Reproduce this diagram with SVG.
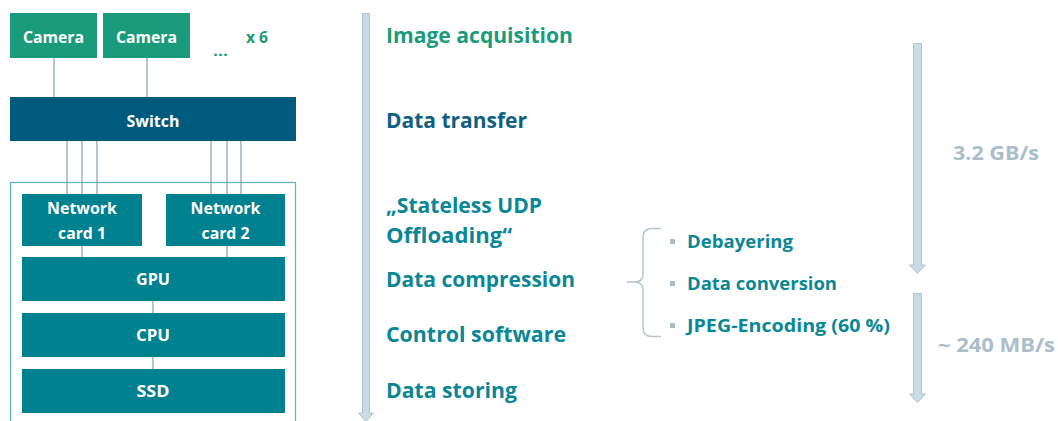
<svg xmlns="http://www.w3.org/2000/svg" width="1058" height="421" viewBox="0 0 1058 421">
<style>
text{font-family:"Open Sans","Liberation Sans",sans-serif;font-weight:700}
.box{fill:#00818f}
.wt{fill:#ffffff;font-size:16px;text-anchor:middle;font-weight:700}
.ln{stroke:#b3c7d1;stroke-width:2;fill:none}
.h{font-size:20.5px;font-weight:700}
.teal{fill:#0a8796}
.sub{font-size:17.5px;font-weight:700;fill:#0a8796}
.gray{fill:#aabdca;font-size:20px;font-weight:700}
.arr{fill:#c9dbe4;stroke:#afc4cf;stroke-width:1}
.bul{fill:#a9bcc8}
</style>
<rect width="1058" height="421" fill="#ffffff"/>
<g id="connectors">
<line class="ln" x1="54" y1="58" x2="54" y2="97"/>
<line class="ln" x1="147" y1="58" x2="147" y2="97"/>
<line class="ln" x1="67" y1="141" x2="67" y2="194"/>
<line class="ln" x1="82" y1="141" x2="82" y2="194"/>
<line class="ln" x1="97" y1="141" x2="97" y2="194"/>
<line class="ln" x1="211" y1="141" x2="211" y2="194"/>
<line class="ln" x1="227" y1="141" x2="227" y2="194"/>
<line class="ln" x1="241" y1="141" x2="241" y2="194"/>
<line class="ln" x1="82" y1="246" x2="82" y2="257"/>
<line class="ln" x1="227" y1="246" x2="227" y2="257"/>
<line class="ln" x1="153" y1="301" x2="153" y2="313"/>
<line class="ln" x1="153" y1="357" x2="153" y2="369"/>
</g>
<g id="container"><rect x="10.5" y="182.5" width="285" height="250" fill="none" stroke="#5db4bf" stroke-width="1.2"/></g>
<g id="camera1"><rect x="10" y="13" width="87" height="45" fill="#1a9b7b"/><text class="wt" x="53.5" y="43" textLength="61" lengthAdjust="spacingAndGlyphs">Camera</text></g>
<g id="camera2"><rect x="103" y="13" width="87" height="45" fill="#1a9b7b"/><text class="wt" x="146.5" y="43" textLength="61" lengthAdjust="spacingAndGlyphs">Camera</text></g>
<g id="more"><text x="257" y="43" font-size="16" fill="#1a9b7b" text-anchor="middle" textLength="22" lengthAdjust="spacingAndGlyphs">x 6</text><text x="220.5" y="56" font-size="15" fill="#1a9b7b" text-anchor="middle" textLength="15" lengthAdjust="spacingAndGlyphs">...</text></g>
<g id="switch"><rect x="10" y="97" width="286" height="44" fill="#005a7d"/><text class="wt" x="153" y="127" textLength="53" lengthAdjust="spacingAndGlyphs">Switch</text></g>
<g id="nc1"><rect class="box" x="22" y="194" width="120" height="52"/><text class="wt" x="82" y="214" textLength="70" lengthAdjust="spacingAndGlyphs">Network</text><text class="wt" x="82" y="239" textLength="48" lengthAdjust="spacingAndGlyphs">card 1</text></g>
<g id="nc2"><rect class="box" x="166" y="194" width="119" height="52"/><text class="wt" x="225.5" y="214" textLength="70" lengthAdjust="spacingAndGlyphs">Network</text><text class="wt" x="225.5" y="239" textLength="48" lengthAdjust="spacingAndGlyphs">card 2</text></g>
<g id="gpu"><rect class="box" x="22" y="257" width="263" height="44"/><text class="wt" x="153" y="285" textLength="34" lengthAdjust="spacingAndGlyphs">GPU</text></g>
<g id="cpu"><rect class="box" x="22" y="313" width="263" height="44"/><text class="wt" x="153" y="341" textLength="34" lengthAdjust="spacingAndGlyphs">CPU</text></g>
<g id="ssd"><rect class="box" x="22" y="369" width="263" height="44"/><text class="wt" x="153" y="397" textLength="33" lengthAdjust="spacingAndGlyphs">SSD</text></g>
<g id="timeline"><path class="arr" d="M362.5,13.5 H369.5 V413 H373.5 L366,421.5 L358.5,413 H362.5 Z"/></g>
<g id="steps">
<text class="h" x="386" y="43" fill="#1a9b7b" textLength="187" lengthAdjust="spacingAndGlyphs">Image acquisition</text>
<text class="h" x="386" y="128" fill="#0f5f82" textLength="141" lengthAdjust="spacingAndGlyphs">Data transfer</text>
<text class="h teal" x="386" y="213" textLength="156" lengthAdjust="spacingAndGlyphs">„Stateless UDP</text>
<text class="h teal" x="386" y="243" textLength="126" lengthAdjust="spacingAndGlyphs">Offloading“</text>
<text class="h teal" x="386" y="287" textLength="189" lengthAdjust="spacingAndGlyphs">Data compression</text>
<text class="h teal" x="386" y="342" textLength="180" lengthAdjust="spacingAndGlyphs">Control software</text>
<text class="h teal" x="386" y="398" textLength="131" lengthAdjust="spacingAndGlyphs">Data storing</text>
</g>
<g id="brace"><path d="M661,228.5 H652 Q643,228.5 643,237 V274 Q643,282 635,282 H627 M635,282 Q643,282 643,290 V328 Q643,336.5 652,336.5 H661" fill="none" stroke="#b3c5cf" stroke-width="1.5"/></g>
<g id="compression-steps">
<rect class="bul" x="670" y="239" width="5" height="5"/>
<rect class="bul" x="670" y="281" width="5" height="5"/>
<rect class="bul" x="670" y="323" width="5" height="5"/>
<text class="sub" x="687" y="248" textLength="106" lengthAdjust="spacingAndGlyphs">Debayering</text>
<text class="sub" x="687" y="290" textLength="150" lengthAdjust="spacingAndGlyphs">Data conversion</text>
<text class="sub" x="687" y="332" textLength="203" lengthAdjust="spacingAndGlyphs">JPEG-Encoding (60 %)</text>
</g>
<g id="rates">
<path class="arr" d="M913.5,43.5 H921.5 V265 H925.5 L917.5,273.5 L909.5,265 H913.5 Z"/>
<path class="arr" d="M913.5,293.5 H921.5 V394 H925.5 L917.5,402.5 L909.5,394 H913.5 Z"/>
<text class="gray" x="953" y="160" textLength="86" lengthAdjust="spacingAndGlyphs">3.2 GB/s</text>
<text class="gray" x="938" y="352" textLength="117" lengthAdjust="spacingAndGlyphs">~ 240 MB/s</text>
</g>
</svg>
